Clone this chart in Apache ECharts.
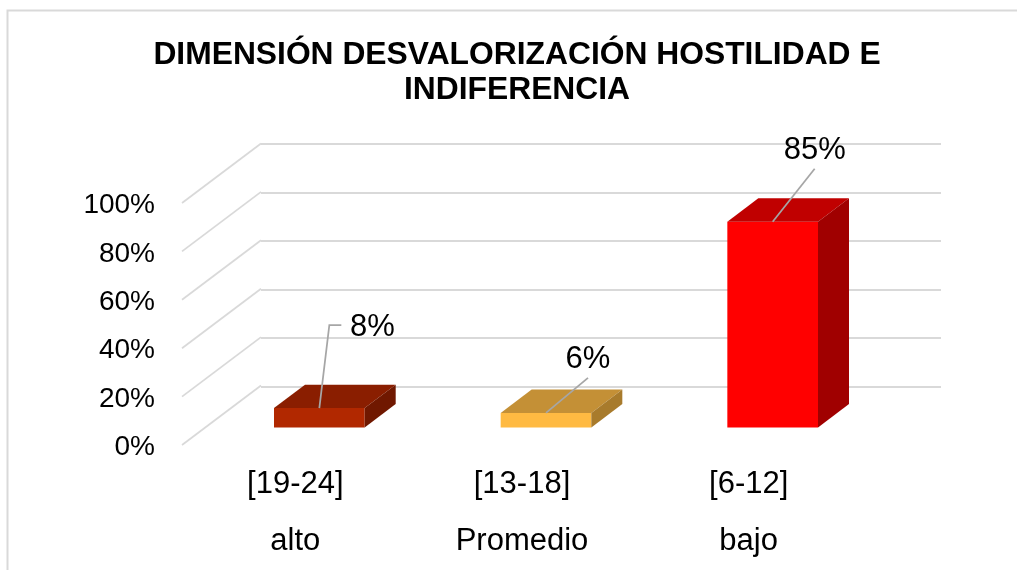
<!DOCTYPE html>
<html>
<head>
<meta charset="utf-8">
<title>Dimensión desvalorización hostilidad e indiferencia</title>
<script src="https://cdn.jsdelivr.net/npm/echarts@6/dist/echarts.min.js"></script>
<style>
  html, body { margin: 0; background: #fff; }
  #chart { width: 1017px; height: 570px; }
</style>
</head>
<body>
<div id="chart"></div>
<script>
const rangeLabels = ["[19-24]", "[13-18]", "[6-12]"];
const levelLabels = ["alto", "Promedio", "bajo"];
const percentages = [8, 6, 85];
const yTicks = [0, 20, 40, 60, 80, 100];

const frontColors = ["#b12800", "#ffba42", "#ff0000"];
const topColors = ["#8a1e00", "#c49036", "#c00000"];
const sideColors = ["#701800", "#a87b2c", "#a00000"];

// pixel offsets of the fake 3D
const wallShift = [79, -59.5];
const barShift = [24, -17.6];
const barDepth = [31, -23.4];
const fontFamily = '"Liberation Sans", Arial, sans-serif';

// leader line bends and label centre, relative to the middle of the bar's top edge
const leaders = [
  { line: [[10, -83], [22, -83]], label: [53, -81] },
  { line: [[42, -35]], label: [42, -53] },
  { line: [[42, -53]], label: [42, -71] },
];

function renderBar(params, api) {
  const index = api.value(0);
  const base = api.coord([index, 0]);
  const top = api.coord([index, api.value(1)]);
  const half = api.size([1, 0])[0] * 0.2;
  const xc = base[0] + barShift[0];
  const y0 = base[1] + barShift[1];
  const y1 = top[1] + barShift[1];
  const left = xc - half;
  const right = xc + half;
  const [dx, dy] = barDepth;
  const leader = leaders[index];
  const start = [xc, y1];
  return {
    type: "group",
    children: [
      {
        type: "polygon",
        shape: { points: [[left, y1], [right, y1], [right, y0], [left, y0]] },
        style: { fill: frontColors[index] },
      },
      {
        type: "polygon",
        shape: { points: [[left, y1], [left + dx, y1 + dy], [right + dx, y1 + dy], [right, y1]] },
        style: { fill: topColors[index] },
      },
      {
        type: "polygon",
        shape: { points: [[right, y1], [right + dx, y1 + dy], [right + dx, y0 + dy], [right, y0]] },
        style: { fill: sideColors[index] },
      },
      {
        type: "polyline",
        shape: { points: [start].concat(leader.line.map((p) => [xc + p[0], y1 + p[1]])) },
        style: { fill: null, stroke: "#a6a6a6", lineWidth: 1.75 },
      },
      {
        type: "text",
        style: {
          x: xc + leader.label[0],
          y: y1 + leader.label[1],
          text: api.value(1) + "%",
          fill: "#000",
          font: "31px " + fontFamily,
          align: "center",
          verticalAlign: "middle",
        },
      },
    ],
  };
}

function renderDiagonal(params, api) {
  const start = api.coord([0, api.value(0)]);
  const x = params.coordSys.x;
  return {
    type: "line",
    shape: { x1: x, y1: start[1], x2: x + wallShift[0], y2: start[1] + wallShift[1] },
    style: { stroke: "#d9d9d9", lineWidth: 1.75 },
  };
}

const chart = echarts.init(document.getElementById("chart"), null, { renderer: "canvas" });

chart.setOption({
  animation: false,
  backgroundColor: "#fff",
  title: {
    text: "DIMENSIÓN DESVALORIZACIÓN HOSTILIDAD E\nINDIFERENCIA",
    left: 512,
    top: 33,
    textAlign: "center",
    textStyle: {
      color: "#000",
      fontFamily,
      fontSize: 31.8,
      fontWeight: "bold",
      lineHeight: 35,
    },
  },
  graphic: [
    {
      type: "rect",
      shape: { x: 7.5, y: 10.5, width: 1100, height: 700 },
      style: { fill: null, stroke: "#d9d9d9", lineWidth: 2 },
      silent: true,
    },
  ],
  grid: [
    { left: 182, top: 203, width: 680, height: 243 },
    { left: 261, top: 144, width: 680, height: 242.6 },
  ],
  xAxis: [
    {
      type: "category",
      gridIndex: 0,
      data: rangeLabels.map((range, i) => range + "\n" + levelLabels[i]),
      axisLine: { show: false },
      axisTick: { show: false },
      axisLabel: {
        color: "#000",
        fontFamily,
        fontSize: 31,
        lineHeight: 57,
        margin: 11,
      },
    },
    {
      type: "category",
      gridIndex: 1,
      data: rangeLabels,
      axisLine: { show: false },
      axisTick: { show: false },
      axisLabel: { show: false },
    },
  ],
  yAxis: [
    {
      type: "value",
      gridIndex: 0,
      min: 0,
      max: 100,
      interval: 20,
      axisLine: { show: false },
      axisTick: { show: false },
      splitLine: { show: false },
      axisLabel: {
        color: "#000",
        fontFamily,
        fontSize: 28,
        margin: 27,
        verticalAlign: "top",
        lineHeight: 5,
        formatter: "{value}%",
      },
    },
    {
      type: "value",
      gridIndex: 1,
      min: 0,
      max: 100,
      interval: 20,
      axisLine: { show: false },
      axisTick: { show: false },
      axisLabel: { show: false },
      splitLine: { lineStyle: { color: "#d9d9d9", width: 2 } },
    },
  ],
  series: [
    {
      type: "custom",
      xAxisIndex: 0,
      yAxisIndex: 0,
      z: 1,
      renderItem: renderDiagonal,
      encode: { y: 0 },
      data: yTicks.map((tick) => [tick]),
      silent: true,
    },
    {
      type: "custom",
      xAxisIndex: 0,
      yAxisIndex: 0,
      z: 3,
      renderItem: renderBar,
      encode: { x: 0, y: 1 },
      data: percentages.map((value, i) => [i, value]),
    },
  ],
});
</script>
</body>
</html>
